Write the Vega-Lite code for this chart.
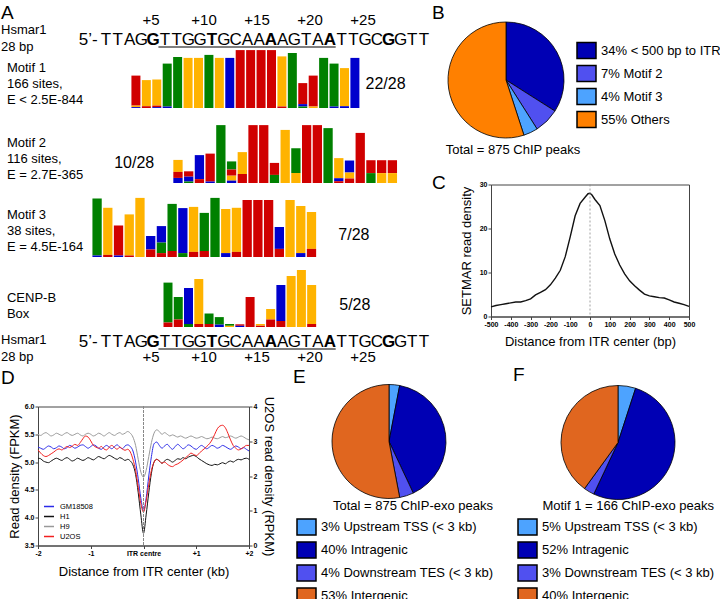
{
"$schema": "https://vega.github.io/schema/vega-lite/v6.json",
"background": "white",
"padding": 0,
"spacing": 0.5,
"columns": 1,
"align": "none",
"resolve": {"scale": {"color": "independent", "theta": "independent"}, "legend": {"color": "independent"}},
"config": {
  "font": "Liberation Sans",
  "view": {"stroke": null},
  "title": {"fontWeight": "normal", "color": "#000", "font": "Liberation Sans", "fontSize": 19, "anchor": "start"},
  "text": {"font": "Liberation Sans", "color": "#000"},
  "axis": {"labelFont": "Liberation Sans", "titleFont": "Liberation Sans", "labelColor": "#000", "titleColor": "#000", "domainColor": "#444", "tickColor": "#444", "grid": false, "labelFontSize": 7, "labelFontWeight": "bold", "tickSize": 3, "labelPadding": 1, "titleFontSize": 13, "titleFontWeight": "normal", "labelFlush": false, "labelOverlap": false},
  "legend": {"labelFont": "Liberation Sans", "titleFont": "Liberation Sans", "labelColor": "#000", "titleColor": "#000", "labelLimit": 0, "titleLimit": 0}
},
"concat": [
{
 "columns": 2,
 "align": "none",
 "spacing": 0,
 "resolve": {"scale": {"color": "independent", "theta": "independent"}, "legend": {"color": "independent"}},
 "concat": [
  {
   "columns": 1,
   "align": "none",
   "bounds": "flush",
   "spacing": 0,
   "resolve": {"scale": {"color": "independent", "theta": "independent"}, "legend": {"color": "independent"}},
   "concat": [
    {
     "width": 393, "height": 50,
     "title": {"text": "A", "anchor": "start", "frame": "group", "dx": -37, "offset": -23, "fontSize": 19},
     "resolve": {"scale": {"x": "independent"}},
     "layer": [
      {"data": {"values": [{"pos":1,"nt":"T"},{"pos":2,"nt":"T"},{"pos":3,"nt":"A"},{"pos":4,"nt":"G"},{"pos":5,"nt":"G"},{"pos":6,"nt":"T"},{"pos":7,"nt":"T"},{"pos":8,"nt":"G"},{"pos":9,"nt":"G"},{"pos":10,"nt":"T"},{"pos":11,"nt":"G"},{"pos":12,"nt":"C"},{"pos":13,"nt":"A"},{"pos":14,"nt":"A"},{"pos":15,"nt":"A"},{"pos":16,"nt":"A"},{"pos":17,"nt":"G"},{"pos":18,"nt":"T"},{"pos":19,"nt":"A"},{"pos":20,"nt":"A"},{"pos":21,"nt":"T"},{"pos":22,"nt":"T"},{"pos":23,"nt":"G"},{"pos":24,"nt":"C"},{"pos":25,"nt":"G"},{"pos":26,"nt":"G"},{"pos":27,"nt":"T"},{"pos":28,"nt":"T"}]},
       "transform": [{"filter": "datum.pos % 5 !== 0"}],
       "mark": {"type": "text", "fontSize": 17, "baseline": "middle"},
       "encoding": {"x": {"field": "pos", "type": "quantitative", "scale": {"domain": [-4.772, 28.59], "nice": false, "zero": false}, "axis": null}, "y": {"datum": 1.0, "scale": {"domain": [0, 5], "nice": false, "zero": false}, "axis": null}, "text": {"field": "nt"}}},
      {"data": {"values": [{"pos":1,"nt":"T"},{"pos":2,"nt":"T"},{"pos":3,"nt":"A"},{"pos":4,"nt":"G"},{"pos":5,"nt":"G"},{"pos":6,"nt":"T"},{"pos":7,"nt":"T"},{"pos":8,"nt":"G"},{"pos":9,"nt":"G"},{"pos":10,"nt":"T"},{"pos":11,"nt":"G"},{"pos":12,"nt":"C"},{"pos":13,"nt":"A"},{"pos":14,"nt":"A"},{"pos":15,"nt":"A"},{"pos":16,"nt":"A"},{"pos":17,"nt":"G"},{"pos":18,"nt":"T"},{"pos":19,"nt":"A"},{"pos":20,"nt":"A"},{"pos":21,"nt":"T"},{"pos":22,"nt":"T"},{"pos":23,"nt":"G"},{"pos":24,"nt":"C"},{"pos":25,"nt":"G"},{"pos":26,"nt":"G"},{"pos":27,"nt":"T"},{"pos":28,"nt":"T"}]},
       "transform": [{"filter": "datum.pos % 5 === 0"}],
       "mark": {"type": "text", "fontSize": 17, "fontWeight": "bold", "baseline": "middle"},
       "encoding": {"x": {"field": "pos", "type": "quantitative", "scale": {"domain": [-4.772, 28.59], "nice": false, "zero": false}, "axis": null}, "y": {"datum": 1.0, "axis": null}, "text": {"field": "nt"}}},
      {"data": {"values": [{"t": "5’-"}]},
       "mark": {"type": "text", "fontSize": 17, "baseline": "middle"},
       "encoding": {"x": {"datum": -0.5, "scale": {"domain": [-4.772, 28.59], "nice": false, "zero": false}, "axis": null}, "y": {"datum": 1.0, "axis": null}, "text": {"field": "t"}}},
      {"data": {"values": [{}]},
       "mark": {"type": "rule", "color": "#000", "strokeWidth": 1.2},
       "encoding": {"x": {"datum": 5.45, "scale": {"domain": [-4.772, 28.59], "nice": false, "zero": false}, "axis": null}, "x2": {"datum": 20.5}, "y": {"datum": 0.3, "axis": null}}},
      {"data": {"values": [{"t":"+5","p":5},{"t":"+10","p":10},{"t":"+15","p":15},{"t":"+20","p":20},{"t":"+25","p":25}]},
       "mark": {"type": "text", "fontSize": 15, "baseline": "middle"},
       "encoding": {"x": {"field": "p", "type": "quantitative", "scale": {"domain": [-5.66, 31.415], "nice": false, "zero": false}, "axis": null}, "y": {"datum": 3.0, "axis": null}, "text": {"field": "t"}}},
      {"data": {"values": [{"t": "Hsmar1\n28 bp"}]},
       "mark": {"type": "text", "fontSize": 13, "align": "left", "baseline": "middle", "lineBreak": "\n", "lineHeight": 17},
       "encoding": {"x": {"datum": -7.913, "scale": {"domain": [-4.772, 28.59], "nice": false, "zero": false}, "axis": null}, "y": {"datum": 2.0, "axis": null}, "text": {"field": "t"}}}
     ]
    },
    {
     "width": 393, "height": 68,
     "layer": [
      {"data": {"values": [
        {"col":1,"base":"A","bits":1.0},{"col":1,"base":"G","bits":0.05},{"col":1,"base":"C","bits":0.03},
        {"col":2,"base":"G","bits":0.87},{"col":2,"base":"A","bits":0.06},
        {"col":3,"base":"G","bits":0.87},{"col":3,"base":"A","bits":0.05},{"col":3,"base":"C","bits":0.03},
        {"col":4,"base":"T","bits":1.43},{"col":4,"base":"C","bits":0.05},
        {"col":5,"base":"T","bits":1.7},
        {"col":6,"base":"G","bits":1.67},
        {"col":7,"base":"G","bits":1.67},
        {"col":8,"base":"T","bits":1.77},
        {"col":9,"base":"G","bits":1.67},
        {"col":10,"base":"C","bits":1.67},
        {"col":11,"base":"A","bits":1.93},
        {"col":12,"base":"A","bits":1.93},
        {"col":13,"base":"A","bits":1.93},
        {"col":14,"base":"A","bits":1.93},
        {"col":15,"base":"G","bits":1.67},{"col":15,"base":"A","bits":0.05},
        {"col":16,"base":"T","bits":1.83},
        {"col":17,"base":"A","bits":0.7},{"col":17,"base":"C","bits":0.08},{"col":17,"base":"T","bits":0.05},
        {"col":18,"base":"A","bits":1.03},{"col":18,"base":"G","bits":0.05},
        {"col":19,"base":"T","bits":1.67},
        {"col":20,"base":"T","bits":1.43},{"col":20,"base":"C","bits":0.05},
        {"col":21,"base":"G","bits":1.27},{"col":21,"base":"C","bits":0.06},
        {"col":22,"base":"C","bits":1.67}]},
       "mark": {"type": "bar", "width": 9},
       "encoding": {
        "x": {"field": "col", "type": "quantitative", "scale": {"domain": [-7.911, 28.818], "nice": false, "zero": false}, "axis": null},
        "y": {"field": "bits", "type": "quantitative", "stack": "zero", "scale": {"domain": [-0.333, 1.933], "nice": false, "zero": false}, "axis": null},
        "color": {"field": "base", "type": "nominal", "scale": {"domain": ["A","C","G","T"], "range": ["#D00000","#0000CC","#FFB300","#008000"]}, "legend": null},
        "order": {"field": "bits", "type": "quantitative", "sort": "ascending"}}},
      {"data": {"values": [{"t": "Motif 1\n166 sites,\nE < 2.5E-844"}]},
       "mark": {"type": "text", "fontSize": 13, "align": "left", "baseline": "middle", "lineBreak": "\n", "lineHeight": 16},
       "encoding": {"x": {"datum": -11.369, "axis": null}, "y": {"datum": 1.333, "axis": null}, "text": {"field": "t"}}},
      {"data": {"values": [{"t": "22/28"}]},
       "mark": {"type": "text", "fontSize": 16, "align": "left", "baseline": "middle"},
       "encoding": {"x": {"datum": 23.02, "axis": null}, "y": {"datum": 0.8, "axis": null}, "text": {"field": "t"}}}
     ]
    },
    {
     "width": 393, "height": 72,
     "layer": [
      {"data": {"values": [
        {"col":1,"base":"G","bits":0.4},{"col":1,"base":"C","bits":0.17},{"col":1,"base":"A","bits":0.2},
        {"col":2,"base":"C","bits":0.17},{"col":2,"base":"A","bits":0.17},{"col":2,"base":"T","bits":0.05},
        {"col":3,"base":"C","bits":0.8},{"col":3,"base":"A","bits":0.13},
        {"col":4,"base":"A","bits":0.93},{"col":4,"base":"C","bits":0.05},
        {"col":5,"base":"T","bits":1.93},
        {"col":6,"base":"T","bits":0.27},{"col":6,"base":"G","bits":0.17},{"col":6,"base":"A","bits":0.2},{"col":6,"base":"C","bits":0.08},
        {"col":7,"base":"G","bits":0.73},{"col":7,"base":"A","bits":0.3},
        {"col":8,"base":"A","bits":1.93},
        {"col":9,"base":"A","bits":1.93},
        {"col":10,"base":"A","bits":0.4},{"col":10,"base":"T","bits":0.27},
        {"col":11,"base":"G","bits":1.77},
        {"col":12,"base":"T","bits":0.83},{"col":12,"base":"G","bits":0.33},
        {"col":13,"base":"A","bits":1.93},
        {"col":14,"base":"A","bits":1.93},
        {"col":15,"base":"T","bits":1.83},
        {"col":16,"base":"G","bits":0.67},{"col":16,"base":"C","bits":0.1},{"col":16,"base":"A","bits":0.06},
        {"col":17,"base":"C","bits":0.4},{"col":17,"base":"G","bits":0.2},{"col":17,"base":"A","bits":0.15},
        {"col":18,"base":"A","bits":1.67},
        {"col":19,"base":"A","bits":0.43},{"col":19,"base":"T","bits":0.33},
        {"col":20,"base":"A","bits":0.43},{"col":20,"base":"G","bits":0.33},
        {"col":21,"base":"A","bits":0.43},{"col":21,"base":"G","bits":0.33}]},
       "mark": {"type": "bar", "width": 9.3},
       "encoding": {
        "x": {"field": "col", "type": "quantitative", "scale": {"domain": [-11.591, 24.136], "nice": false, "zero": false}, "axis": null},
        "y": {"field": "bits", "type": "quantitative", "stack": "zero", "scale": {"domain": [-0.233, 2.167], "nice": false, "zero": false}, "axis": null},
        "color": {"field": "base", "type": "nominal", "scale": {"domain": ["A","C","G","T"], "range": ["#D00000","#0000CC","#FFB300","#008000"]}, "legend": null},
        "order": {"field": "bits", "type": "quantitative", "sort": "ascending"}}},
      {"data": {"values": [{"t": "Motif 2\n116 sites,\nE = 2.7E-365"}]},
       "mark": {"type": "text", "fontSize": 13, "align": "left", "baseline": "middle", "lineBreak": "\n", "lineHeight": 16},
       "encoding": {"x": {"datum": -14.955, "axis": null}, "y": {"datum": 1.333, "axis": null}, "text": {"field": "t"}}},
      {"data": {"values": [{"t": "10/28"}]},
       "mark": {"type": "text", "fontSize": 16, "align": "left", "baseline": "middle"},
       "encoding": {"x": {"datum": -4.95, "axis": null}, "y": {"datum": 0.667, "axis": null}, "text": {"field": "t"}}}
     ]
    },
    {
     "width": 393, "height": 72,
     "layer": [
      {"data": {"values": [
        {"col":1,"base":"T","bits":1.9},{"col":1,"base":"C","bits":0.05},
        {"col":2,"base":"G","bits":1.57},{"col":2,"base":"A","bits":0.07},
        {"col":3,"base":"A","bits":1.0},{"col":3,"base":"C","bits":0.05},
        {"col":4,"base":"G","bits":1.37},{"col":4,"base":"A","bits":0.05},
        {"col":5,"base":"G","bits":1.97},
        {"col":6,"base":"C","bits":0.45},{"col":6,"base":"A","bits":0.25},
        {"col":7,"base":"C","bits":0.55},{"col":7,"base":"T","bits":0.35},{"col":7,"base":"A","bits":0.13},
        {"col":8,"base":"T","bits":1.57},{"col":8,"base":"A","bits":0.2},
        {"col":9,"base":"C","bits":1.5},{"col":9,"base":"T","bits":0.13},
        {"col":10,"base":"G","bits":1.5},{"col":10,"base":"A","bits":0.17},
        {"col":11,"base":"T","bits":1.27},{"col":11,"base":"A","bits":0.2},
        {"col":12,"base":"T","bits":1.97},
        {"col":13,"base":"G","bits":1.47},{"col":13,"base":"C","bits":0.13},
        {"col":14,"base":"G","bits":1.47},{"col":14,"base":"A","bits":0.17},
        {"col":15,"base":"A","bits":1.9},
        {"col":16,"base":"A","bits":1.9},
        {"col":17,"base":"A","bits":1.9},
        {"col":18,"base":"C","bits":0.73},{"col":18,"base":"A","bits":0.27},
        {"col":19,"base":"G","bits":1.9},
        {"col":20,"base":"G","bits":1.57},{"col":20,"base":"C","bits":0.13},
        {"col":21,"base":"G","bits":1.23},{"col":21,"base":"A","bits":0.27}]},
       "mark": {"type": "bar", "width": 9.3},
       "encoding": {
        "x": {"field": "col", "type": "quantitative", "scale": {"domain": [-4.045, 31.682], "nice": false, "zero": false}, "axis": null},
        "y": {"field": "bits", "type": "quantitative", "stack": "zero", "scale": {"domain": [-0.167, 2.233], "nice": false, "zero": false}, "axis": null},
        "color": {"field": "base", "type": "nominal", "scale": {"domain": ["A","C","G","T"], "range": ["#D00000","#0000CC","#FFB300","#008000"]}, "legend": null},
        "order": {"field": "bits", "type": "quantitative", "sort": "ascending"}}},
      {"data": {"values": [{"t": "Motif 3\n38 sites,\nE = 4.5E-164"}]},
       "mark": {"type": "text", "fontSize": 13, "align": "left", "baseline": "middle", "lineBreak": "\n", "lineHeight": 16},
       "encoding": {"x": {"datum": -7.409, "axis": null}, "y": {"datum": 1.4, "axis": null}, "text": {"field": "t"}}},
      {"data": {"values": [{"t": "7/28"}]},
       "mark": {"type": "text", "fontSize": 16, "align": "left", "baseline": "middle"},
       "encoding": {"x": {"datum": 23.5, "axis": null}, "y": {"datum": 0.733, "axis": null}, "text": {"field": "t"}}}
     ]
    },
    {
     "width": 393, "height": 68,
     "layer": [
      {"data": {"values": [
        {"col":1,"base":"T","bits":1.33},{"col":1,"base":"A","bits":0.15},
        {"col":2,"base":"T","bits":0.75},{"col":2,"base":"A","bits":0.25},
        {"col":3,"base":"C","bits":1.2},{"col":3,"base":"T","bits":0.1},
        {"col":4,"base":"G","bits":1.5},{"col":4,"base":"A","bits":0.1},
        {"col":5,"base":"T","bits":0.35},{"col":5,"base":"A","bits":0.1},
        {"col":6,"base":"T","bits":0.25},{"col":6,"base":"C","bits":0.08},
        {"col":7,"base":"T","bits":0.06},{"col":7,"base":"G","bits":0.04},
        {"col":8,"base":"A","bits":0.05},{"col":8,"base":"C","bits":0.04},
        {"col":9,"base":"A","bits":1.0},
        {"col":10,"base":"A","bits":0.05},{"col":10,"base":"G","bits":0.05},
        {"col":11,"base":"G","bits":0.35},{"col":11,"base":"A","bits":0.25},
        {"col":12,"base":"C","bits":1.2},{"col":12,"base":"A","bits":0.2},
        {"col":13,"base":"G","bits":1.7},
        {"col":14,"base":"G","bits":1.9},
        {"col":15,"base":"G","bits":1.3},{"col":15,"base":"A","bits":0.1}]},
       "mark": {"type": "bar", "width": 9},
       "encoding": {
        "x": {"field": "col", "type": "quantitative", "scale": {"domain": [-11.181, 26.142], "nice": false, "zero": false}, "axis": null},
        "y": {"field": "bits", "type": "quantitative", "stack": "zero", "scale": {"domain": [-0.1, 2.167], "nice": false, "zero": false}, "axis": null},
        "color": {"field": "base", "type": "nominal", "scale": {"domain": ["A","C","G","T"], "range": ["#D00000","#0000CC","#FFB300","#008000"]}, "legend": null},
        "order": {"field": "bits", "type": "quantitative", "sort": "ascending"}}},
      {"data": {"values": [{"t": "CENP-B\nBox"}]},
       "mark": {"type": "text", "fontSize": 13, "align": "left", "baseline": "middle", "lineBreak": "\n", "lineHeight": 16},
       "encoding": {"x": {"datum": -14.694, "axis": null}, "y": {"datum": 0.967, "axis": null}, "text": {"field": "t"}}},
      {"data": {"values": [{"t": "5/28"}]},
       "mark": {"type": "text", "fontSize": 16, "align": "left", "baseline": "middle"},
       "encoding": {"x": {"datum": 17.69, "axis": null}, "y": {"datum": 0.733, "axis": null}, "text": {"field": "t"}}}
     ]
    },
    {
     "width": 393, "height": 35,
     "resolve": {"scale": {"x": "independent"}},
     "layer": [
      {"data": {"values": [{"pos":1,"nt":"T"},{"pos":2,"nt":"T"},{"pos":3,"nt":"A"},{"pos":4,"nt":"G"},{"pos":5,"nt":"G"},{"pos":6,"nt":"T"},{"pos":7,"nt":"T"},{"pos":8,"nt":"G"},{"pos":9,"nt":"G"},{"pos":10,"nt":"T"},{"pos":11,"nt":"G"},{"pos":12,"nt":"C"},{"pos":13,"nt":"A"},{"pos":14,"nt":"A"},{"pos":15,"nt":"A"},{"pos":16,"nt":"A"},{"pos":17,"nt":"G"},{"pos":18,"nt":"T"},{"pos":19,"nt":"A"},{"pos":20,"nt":"A"},{"pos":21,"nt":"T"},{"pos":22,"nt":"T"},{"pos":23,"nt":"G"},{"pos":24,"nt":"C"},{"pos":25,"nt":"G"},{"pos":26,"nt":"G"},{"pos":27,"nt":"T"},{"pos":28,"nt":"T"}]},
       "transform": [{"filter": "datum.pos % 5 !== 0"}],
       "mark": {"type": "text", "fontSize": 17, "baseline": "middle"},
       "encoding": {"x": {"field": "pos", "type": "quantitative", "scale": {"domain": [-4.772, 28.59], "nice": false, "zero": false}, "axis": null}, "y": {"datum": 2.3, "scale": {"domain": [0, 3.5], "nice": false, "zero": false}, "axis": null}, "text": {"field": "nt"}}},
      {"data": {"values": [{"pos":1,"nt":"T"},{"pos":2,"nt":"T"},{"pos":3,"nt":"A"},{"pos":4,"nt":"G"},{"pos":5,"nt":"G"},{"pos":6,"nt":"T"},{"pos":7,"nt":"T"},{"pos":8,"nt":"G"},{"pos":9,"nt":"G"},{"pos":10,"nt":"T"},{"pos":11,"nt":"G"},{"pos":12,"nt":"C"},{"pos":13,"nt":"A"},{"pos":14,"nt":"A"},{"pos":15,"nt":"A"},{"pos":16,"nt":"A"},{"pos":17,"nt":"G"},{"pos":18,"nt":"T"},{"pos":19,"nt":"A"},{"pos":20,"nt":"A"},{"pos":21,"nt":"T"},{"pos":22,"nt":"T"},{"pos":23,"nt":"G"},{"pos":24,"nt":"C"},{"pos":25,"nt":"G"},{"pos":26,"nt":"G"},{"pos":27,"nt":"T"},{"pos":28,"nt":"T"}]},
       "transform": [{"filter": "datum.pos % 5 === 0"}],
       "mark": {"type": "text", "fontSize": 17, "fontWeight": "bold", "baseline": "middle"},
       "encoding": {"x": {"field": "pos", "type": "quantitative", "scale": {"domain": [-4.772, 28.59], "nice": false, "zero": false}, "axis": null}, "y": {"datum": 2.3, "axis": null}, "text": {"field": "nt"}}},
      {"data": {"values": [{"t": "5’-"}]},
       "mark": {"type": "text", "fontSize": 17, "baseline": "middle"},
       "encoding": {"x": {"datum": -0.5, "scale": {"domain": [-4.772, 28.59], "nice": false, "zero": false}, "axis": null}, "y": {"datum": 2.3, "axis": null}, "text": {"field": "t"}}},
      {"data": {"values": [{}]},
       "mark": {"type": "rule", "color": "#000", "strokeWidth": 1.2},
       "encoding": {"x": {"datum": 5.45, "scale": {"domain": [-4.772, 28.59], "nice": false, "zero": false}, "axis": null}, "x2": {"datum": 20.5}, "y": {"datum": 1.6, "axis": null}}},
      {"data": {"values": [{"t":"+5","p":5},{"t":"+10","p":10},{"t":"+15","p":15},{"t":"+20","p":20},{"t":"+25","p":25}]},
       "mark": {"type": "text", "fontSize": 15, "baseline": "middle"},
       "encoding": {"x": {"field": "p", "type": "quantitative", "scale": {"domain": [-5.66, 31.415], "nice": false, "zero": false}, "axis": null}, "y": {"datum": 0.8, "axis": null}, "text": {"field": "t"}}},
      {"data": {"values": [{"t": "Hsmar1\n28 bp"}]},
       "mark": {"type": "text", "fontSize": 13, "align": "left", "baseline": "middle", "lineBreak": "\n", "lineHeight": 17},
       "encoding": {"x": {"datum": -7.913, "scale": {"domain": [-4.772, 28.59], "nice": false, "zero": false}, "axis": null}, "y": {"datum": 2.5, "axis": null}, "text": {"field": "t"}}}
     ]
    }
   ]
  },
  {
   "columns": 1,
   "align": "none",
   "spacing": 13.5,
   "resolve": {"scale": {"color": "independent", "theta": "independent"}, "legend": {"color": "independent"}},
   "concat": [
    {
     "columns": 1,
     "title": {"text": "B", "anchor": "start", "frame": "group", "dx": -59, "offset": -23, "fontSize": 19},
     "resolve": {"scale": {"color": "independent", "theta": "independent"}, "legend": {"color": "independent"}},
     "concat": [
      {
       "width": 30, "height": 160,
       "title": {"text": "Total = 875 ChIP peaks", "orient": "bottom", "anchor": "middle", "frame": "group", "dx": 7, "offset": -16.5, "fontSize": 13},
       "data": {"values": [
         {"cat": "34% < 500 bp to ITR", "pct": 34, "k": 1},
         {"cat": "7% Motif 2", "pct": 7, "k": 2},
         {"cat": "4% Motif 3", "pct": 4, "k": 3},
         {"cat": "55% Others", "pct": 55, "k": 4}]},
       "mark": {"type": "arc", "outerRadius": 58, "stroke": "#000", "strokeWidth": 0.8},
       "encoding": {
        "theta": {"field": "pct", "type": "quantitative", "stack": true},
        "order": {"field": "k", "type": "quantitative"},
        "color": {"field": "cat", "type": "nominal",
          "scale": {"domain": ["34% < 500 bp to ITR", "7% Motif 2", "4% Motif 3", "55% Others"], "range": ["#0000B4", "#5050F0", "#4DA3FF", "#FF8000"]},
          "legend": {"orient": "none", "legendX": 85, "legendY": 40, "title": null, "symbolType": "M-1,-0.85H1V0.85H-1Z", "symbolSize": 361, "symbolStrokeColor": "#000", "symbolStrokeWidth": 1.5, "symbolOpacity": 1, "labelFontSize": 13, "labelOffset": 4, "rowPadding": 0}}
       }
      }
     ]
    },
    {
     "width": 198, "height": 132,
     "title": {"text": "C", "anchor": "start", "frame": "group", "dx": -59, "offset": -12.5, "fontSize": 19},
     "view": {"stroke": "#444"},
     "layer": [
      {"data": {"values": [
        {"d":-500,"r":2.2},{"d":-475,"r":2.5},{"d":-450,"r":2.7},{"d":-425,"r":2.9},{"d":-400,"r":3.1},{"d":-375,"r":3.3},{"d":-350,"r":3.3},{"d":-325,"r":3.6},{"d":-300,"r":4.0},{"d":-275,"r":4.9},{"d":-250,"r":5.5},{"d":-225,"r":6.1},{"d":-200,"r":7.2},{"d":-175,"r":8.7},{"d":-150,"r":10.5},{"d":-125,"r":13.6},{"d":-100,"r":18.1},{"d":-75,"r":22.9},{"d":-50,"r":25.7},{"d":-25,"r":27.1},{"d":-10,"r":27.9},{"d":0,"r":28.0},{"d":10,"r":27.6},{"d":25,"r":26.6},{"d":50,"r":25.2},{"d":75,"r":21.8},{"d":100,"r":17.6},{"d":125,"r":14.2},{"d":150,"r":11.7},{"d":175,"r":9.7},{"d":200,"r":8.1},{"d":225,"r":7.0},{"d":250,"r":6.0},{"d":275,"r":5.1},{"d":300,"r":4.7},{"d":325,"r":4.5},{"d":350,"r":4.3},{"d":375,"r":4.2},{"d":400,"r":3.8},{"d":425,"r":3.3},{"d":450,"r":3.0},{"d":475,"r":2.7},{"d":500,"r":2.3}]},
       "mark": {"type": "line", "color": "#111", "strokeWidth": 1.4},
       "encoding": {
        "x": {"field": "d", "type": "quantitative", "scale": {"domain": [-500, 500], "nice": false}, "axis": {"values": [-500,-400,-300,-200,-100,0,100,200,300,400,500], "labelExpr": "'' + datum.value", "labelOverlap": false, "labelSeparation": 0, "labelBound": false, "title": "Distance from ITR center (bp)", "titlePadding": 8}},
        "y": {"field": "r", "type": "quantitative", "scale": {"domain": [0, 30], "nice": false}, "axis": {"values": [0,10,20,30], "labelOverlap": false, "title": "SETMAR read density", "titlePadding": 6}}}},
      {"data": {"values": [{}]},
       "mark": {"type": "rule", "color": "#888", "strokeDash": [2, 2], "strokeWidth": 0.8},
       "encoding": {"x": {"datum": 0, "axis": {"values": [-500,-400,-300,-200,-100,0,100,200,300,400,500], "labelExpr": "'' + datum.value", "labelOverlap": false, "labelSeparation": 0, "labelBound": false, "title": "Distance from ITR center (bp)", "titlePadding": 8}}}}
     ]
    }
   ]
  }
 ]
},
{
 "columns": 2,
 "align": "none",
 "spacing": 17,
 "resolve": {"scale": {"color": "independent", "theta": "independent"}, "legend": {"color": "independent"}},
 "concat": [
  {
   "width": 211, "height": 139,
   "title": {"text": "D", "anchor": "start", "frame": "group", "dx": -37, "offset": 7.7, "fontSize": 19},
   "view": {"stroke": "#444"},
   "data": {"values": [
    {"x":-2,"GM18508":5.27,"H1":5.07,"H9":5.5,"U2OS":2.75},
    {"x":-1.95,"GM18508":5.25,"H1":5.06,"H9":5.48,"U2OS":2.66},
    {"x":-1.9,"GM18508":5.23,"H1":5.02,"H9":5.51,"U2OS":2.59},
    {"x":-1.85,"GM18508":5.26,"H1":5.0,"H9":5.53,"U2OS":2.56},
    {"x":-1.8,"GM18508":5.29,"H1":4.99,"H9":5.5,"U2OS":2.59},
    {"x":-1.75,"GM18508":5.27,"H1":5.02,"H9":5.47,"U2OS":2.64},
    {"x":-1.7,"GM18508":5.24,"H1":5.05,"H9":5.49,"U2OS":2.69},
    {"x":-1.65,"GM18508":5.26,"H1":5.07,"H9":5.52,"U2OS":2.75},
    {"x":-1.6,"GM18508":5.29,"H1":5.05,"H9":5.5,"U2OS":2.78},
    {"x":-1.55,"GM18508":5.27,"H1":5.03,"H9":5.48,"U2OS":2.75},
    {"x":-1.5,"GM18508":5.24,"H1":5.06,"H9":5.51,"U2OS":2.8},
    {"x":-1.45,"GM18508":5.26,"H1":5.08,"H9":5.53,"U2OS":2.85},
    {"x":-1.4,"GM18508":5.3,"H1":5.05,"H9":5.5,"U2OS":2.82},
    {"x":-1.35,"GM18508":5.28,"H1":5.02,"H9":5.48,"U2OS":2.86},
    {"x":-1.3,"GM18508":5.25,"H1":5.04,"H9":5.5,"U2OS":2.91},
    {"x":-1.25,"GM18508":5.27,"H1":5.07,"H9":5.52,"U2OS":2.88},
    {"x":-1.2,"GM18508":5.3,"H1":5.05,"H9":5.49,"U2OS":2.96},
    {"x":-1.15,"GM18508":5.31,"H1":5.03,"H9":5.47,"U2OS":3.07},
    {"x":-1.1,"GM18508":5.28,"H1":5.05,"H9":5.5,"U2OS":3.15},
    {"x":-1.05,"GM18508":5.25,"H1":5.08,"H9":5.52,"U2OS":3.12},
    {"x":-1,"GM18508":5.28,"H1":5.06,"H9":5.5,"U2OS":3.01},
    {"x":-0.95,"GM18508":5.31,"H1":5.04,"H9":5.47,"U2OS":2.88},
    {"x":-0.9,"GM18508":5.29,"H1":5.07,"H9":5.49,"U2OS":2.83},
    {"x":-0.85,"GM18508":5.25,"H1":5.1,"H9":5.52,"U2OS":2.8},
    {"x":-0.8,"GM18508":5.23,"H1":5.08,"H9":5.5,"U2OS":2.85},
    {"x":-0.75,"GM18508":5.27,"H1":5.06,"H9":5.47,"U2OS":2.78},
    {"x":-0.7,"GM18508":5.3,"H1":5.09,"H9":5.5,"U2OS":2.75},
    {"x":-0.65,"GM18508":5.27,"H1":5.12,"H9":5.53,"U2OS":2.83},
    {"x":-0.6,"GM18508":5.24,"H1":5.1,"H9":5.5,"U2OS":2.88},
    {"x":-0.55,"GM18508":5.28,"H1":5.07,"H9":5.48,"U2OS":2.82},
    {"x":-0.5,"GM18508":5.31,"H1":5.05,"H9":5.51,"U2OS":2.77},
    {"x":-0.45,"GM18508":5.27,"H1":5.08,"H9":5.53,"U2OS":2.83},
    {"x":-0.4,"GM18508":5.24,"H1":5.06,"H9":5.5,"U2OS":2.78},
    {"x":-0.35,"GM18508":5.29,"H1":5.03,"H9":5.52,"U2OS":2.74},
    {"x":-0.3,"GM18508":5.31,"H1":5.05,"H9":5.55,"U2OS":2.77},
    {"x":-0.25,"GM18508":5.28,"H1":5.02,"H9":5.52,"U2OS":2.69},
    {"x":-0.2,"GM18508":5.2,"H1":4.95,"H9":5.45,"U2OS":2.48},
    {"x":-0.15,"GM18508":5.0,"H1":4.78,"H9":5.3,"U2OS":2.16},
    {"x":-0.1,"GM18508":4.7,"H1":4.45,"H9":5.05,"U2OS":1.68},
    {"x":-0.05,"GM18508":4.35,"H1":4.05,"H9":4.82,"U2OS":1.2},
    {"x":0,"GM18508":4.12,"H1":3.72,"H9":4.73,"U2OS":0.96},
    {"x":0.05,"GM18508":4.35,"H1":4.05,"H9":4.85,"U2OS":1.28},
    {"x":0.1,"GM18508":4.75,"H1":4.45,"H9":5.1,"U2OS":1.76},
    {"x":0.15,"GM18508":5.1,"H1":4.8,"H9":5.35,"U2OS":2.16},
    {"x":0.2,"GM18508":5.33,"H1":5.0,"H9":5.52,"U2OS":2.4},
    {"x":0.25,"GM18508":5.36,"H1":5.05,"H9":5.58,"U2OS":2.48},
    {"x":0.3,"GM18508":5.3,"H1":5.02,"H9":5.55,"U2OS":2.43},
    {"x":0.35,"GM18508":5.25,"H1":4.98,"H9":5.5,"U2OS":2.37},
    {"x":0.4,"GM18508":5.29,"H1":5.02,"H9":5.53,"U2OS":2.4},
    {"x":0.45,"GM18508":5.32,"H1":5.05,"H9":5.5,"U2OS":2.34},
    {"x":0.5,"GM18508":5.27,"H1":5.03,"H9":5.47,"U2OS":2.29},
    {"x":0.55,"GM18508":5.23,"H1":5.0,"H9":5.49,"U2OS":2.27},
    {"x":0.6,"GM18508":5.28,"H1":5.03,"H9":5.47,"U2OS":2.32},
    {"x":0.65,"GM18508":5.32,"H1":5.06,"H9":5.45,"U2OS":2.35},
    {"x":0.7,"GM18508":5.28,"H1":5.05,"H9":5.47,"U2OS":2.4},
    {"x":0.75,"GM18508":5.24,"H1":5.08,"H9":5.45,"U2OS":2.46},
    {"x":0.8,"GM18508":5.27,"H1":5.06,"H9":5.43,"U2OS":2.53},
    {"x":0.85,"GM18508":5.31,"H1":5.09,"H9":5.45,"U2OS":2.59},
    {"x":0.9,"GM18508":5.29,"H1":5.11,"H9":5.47,"U2OS":2.66},
    {"x":0.95,"GM18508":5.25,"H1":5.12,"H9":5.45,"U2OS":2.62},
    {"x":1,"GM18508":5.23,"H1":5.1,"H9":5.43,"U2OS":2.59},
    {"x":1.05,"GM18508":5.27,"H1":5.06,"H9":5.44,"U2OS":2.64},
    {"x":1.1,"GM18508":5.3,"H1":5.03,"H9":5.46,"U2OS":2.72},
    {"x":1.15,"GM18508":5.27,"H1":5.0,"H9":5.44,"U2OS":2.78},
    {"x":1.2,"GM18508":5.24,"H1":4.97,"H9":5.42,"U2OS":2.85},
    {"x":1.25,"GM18508":5.27,"H1":4.95,"H9":5.43,"U2OS":2.93},
    {"x":1.3,"GM18508":5.3,"H1":4.94,"H9":5.45,"U2OS":3.04},
    {"x":1.35,"GM18508":5.28,"H1":4.96,"H9":5.43,"U2OS":3.2},
    {"x":1.4,"GM18508":5.25,"H1":4.95,"H9":5.42,"U2OS":3.36},
    {"x":1.45,"GM18508":5.27,"H1":4.97,"H9":5.44,"U2OS":3.44},
    {"x":1.5,"GM18508":5.3,"H1":4.99,"H9":5.46,"U2OS":3.46},
    {"x":1.55,"GM18508":5.28,"H1":4.97,"H9":5.44,"U2OS":3.39},
    {"x":1.6,"GM18508":5.25,"H1":5.0,"H9":5.45,"U2OS":3.23},
    {"x":1.65,"GM18508":5.23,"H1":5.02,"H9":5.47,"U2OS":3.04},
    {"x":1.7,"GM18508":5.26,"H1":5.0,"H9":5.45,"U2OS":2.88},
    {"x":1.75,"GM18508":5.29,"H1":5.03,"H9":5.43,"U2OS":2.8},
    {"x":1.8,"GM18508":5.27,"H1":5.05,"H9":5.45,"U2OS":2.75},
    {"x":1.85,"GM18508":5.24,"H1":5.04,"H9":5.47,"U2OS":2.78},
    {"x":1.9,"GM18508":5.26,"H1":5.06,"H9":5.45,"U2OS":2.83},
    {"x":1.95,"GM18508":5.23,"H1":5.07,"H9":5.42,"U2OS":2.88},
    {"x":2,"GM18508":5.2,"H1":5.05,"H9":5.4,"U2OS":2.88}]},
   "layer": [
    {"transform": [{"fold": ["GM18508", "H1", "H9"], "as": ["series", "value"]}],
     "mark": {"type": "line", "strokeWidth": 1, "interpolate": "monotone"},
     "encoding": {
      "x": {"field": "x", "type": "quantitative", "scale": {"domain": [-2, 2], "nice": false}, "axis": {"values": [-2,-1,0,1,2], "labelExpr": "datum.value === 0 ? 'ITR centre' : (datum.value > 0 ? '+' + datum.value : '' + datum.value)", "title": "Distance from ITR center (kb)", "titlePadding": 9}},
      "y": {"field": "value", "type": "quantitative", "scale": {"domain": [3.5, 6], "nice": false, "zero": false}, "axis": {"values": [3.5,4,4.5,5,5.5,6], "format": ".1f", "title": "Read density (FPKM)", "titlePadding": 3}},
      "color": {"field": "series", "type": "nominal", "scale": {"domain": ["GM18508", "H1", "H9", "U2OS"], "range": ["#2B2BE8", "#111111", "#999999", "#F22020"]},
        "legend": {"orient": "bottom-left", "offset": 5, "title": null, "symbolType": "stroke", "symbolSize": 100, "symbolStrokeWidth": 1.5, "labelFontSize": 7.5, "labelOffset": 5, "rowPadding": 0}}}},
    {"mark": {"type": "line", "strokeWidth": 1, "interpolate": "monotone"},
     "encoding": {
      "x": {"field": "x", "type": "quantitative", "scale": {"domain": [-2, 2], "nice": false}, "axis": {"values": [-2,-1,0,1,2], "labelExpr": "datum.value === 0 ? 'ITR centre' : (datum.value > 0 ? '+' + datum.value : '' + datum.value)", "title": "Distance from ITR center (kb)", "titlePadding": 9}},
      "y": {"field": "U2OS", "type": "quantitative", "scale": {"domain": [0, 4], "nice": false}, "axis": {"orient": "right", "values": [0,1,2,3,4], "format": "d", "title": "U2OS read density (RPKM)", "titlePadding": 5}},
      "color": {"datum": "U2OS", "type": "nominal"}}},
    {"mark": {"type": "rule", "color": "#888", "strokeDash": [2, 2], "strokeWidth": 0.8},
     "encoding": {"x": {"datum": 0, "axis": {"values": [-2,-1,0,1,2], "labelExpr": "datum.value === 0 ? 'ITR centre' : (datum.value > 0 ? '+' + datum.value : '' + datum.value)", "title": "Distance from ITR center (kb)", "titlePadding": 9}}}}
   ],
   "resolve": {"scale": {"y": "independent"}, "axis": {"y": "independent"}}
  },
  {
   "columns": 2,
   "align": "none",
   "spacing": 19,
   "resolve": {"scale": {"color": "independent", "theta": "independent"}, "legend": {"color": "independent"}},
   "concat": [
    {
     "width": 114, "height": 70,
     "title": {"text": "E", "anchor": "start", "frame": "group", "dx": -39, "offset": -4, "fontSize": 19},
     "data": {"values": [
       {"cat": "3% Upstream TSS (< 3 kb)", "pct": 3, "k": 1},
       {"cat": "40% Intragenic", "pct": 40, "k": 2},
       {"cat": "4% Downstream TES (< 3 kb)", "pct": 4, "k": 3},
       {"cat": "53% Intergenic", "pct": 53, "k": 4}]},
     "mark": {"type": "arc", "outerRadius": 57, "stroke": "#000", "strokeWidth": 0.8},
     "encoding": {
      "theta": {"field": "pct", "type": "quantitative", "stack": true},
      "order": {"field": "k", "type": "quantitative"},
      "color": {"field": "cat", "type": "nominal",
        "scale": {"domain": ["3% Upstream TSS (< 3 kb)", "40% Intragenic", "4% Downstream TES (< 3 kb)", "53% Intergenic"], "range": ["#4DA3FF", "#0000B4", "#5050F0", "#E0661F"]},
        "legend": {"orient": "none", "legendX": -36, "legendY": 93, "title": "Total = 875 ChIP-exo peaks", "titleFontSize": 13, "titleFontWeight": "normal", "titleAnchor": "end", "titlePadding": 4, "symbolType": "M-1,-0.85H1V0.85H-1Z", "symbolSize": 361, "symbolStrokeColor": "#000", "symbolStrokeWidth": 1.5, "symbolOpacity": 1, "labelFontSize": 13, "labelOffset": 4, "rowPadding": 0}}
     }
    },
    {
     "width": 114, "height": 72,
     "title": {"text": "F", "anchor": "start", "frame": "group", "dx": -48, "offset": -1, "fontSize": 19},
     "data": {"values": [
       {"cat": "5% Upstream TSS (< 3 kb)", "pct": 5, "k": 1},
       {"cat": "52% Intragenic", "pct": 52, "k": 2},
       {"cat": "3% Downstream TES (< 3 kb)", "pct": 3, "k": 3},
       {"cat": "40% Intergenic", "pct": 40, "k": 4}]},
     "mark": {"type": "arc", "outerRadius": 57, "stroke": "#000", "strokeWidth": 0.8},
     "encoding": {
      "theta": {"field": "pct", "type": "quantitative", "stack": true},
      "order": {"field": "k", "type": "quantitative"},
      "color": {"field": "cat", "type": "nominal",
        "scale": {"domain": ["5% Upstream TSS (< 3 kb)", "52% Intragenic", "3% Downstream TES (< 3 kb)", "40% Intergenic"], "range": ["#4DA3FF", "#0000B4", "#5050F0", "#E0661F"]},
        "legend": {"orient": "none", "legendX": -44, "legendY": 93, "title": "Motif 1 = 166 ChIP-exo peaks", "titleFontSize": 13, "titleFontWeight": "normal", "titleAnchor": "end", "titlePadding": 4, "symbolType": "M-1,-0.85H1V0.85H-1Z", "symbolSize": 361, "symbolStrokeColor": "#000", "symbolStrokeWidth": 1.5, "symbolOpacity": 1, "labelFontSize": 13, "labelOffset": 4, "rowPadding": 0}}
     }
    }
   ]
  }
 ]
}
]
}
